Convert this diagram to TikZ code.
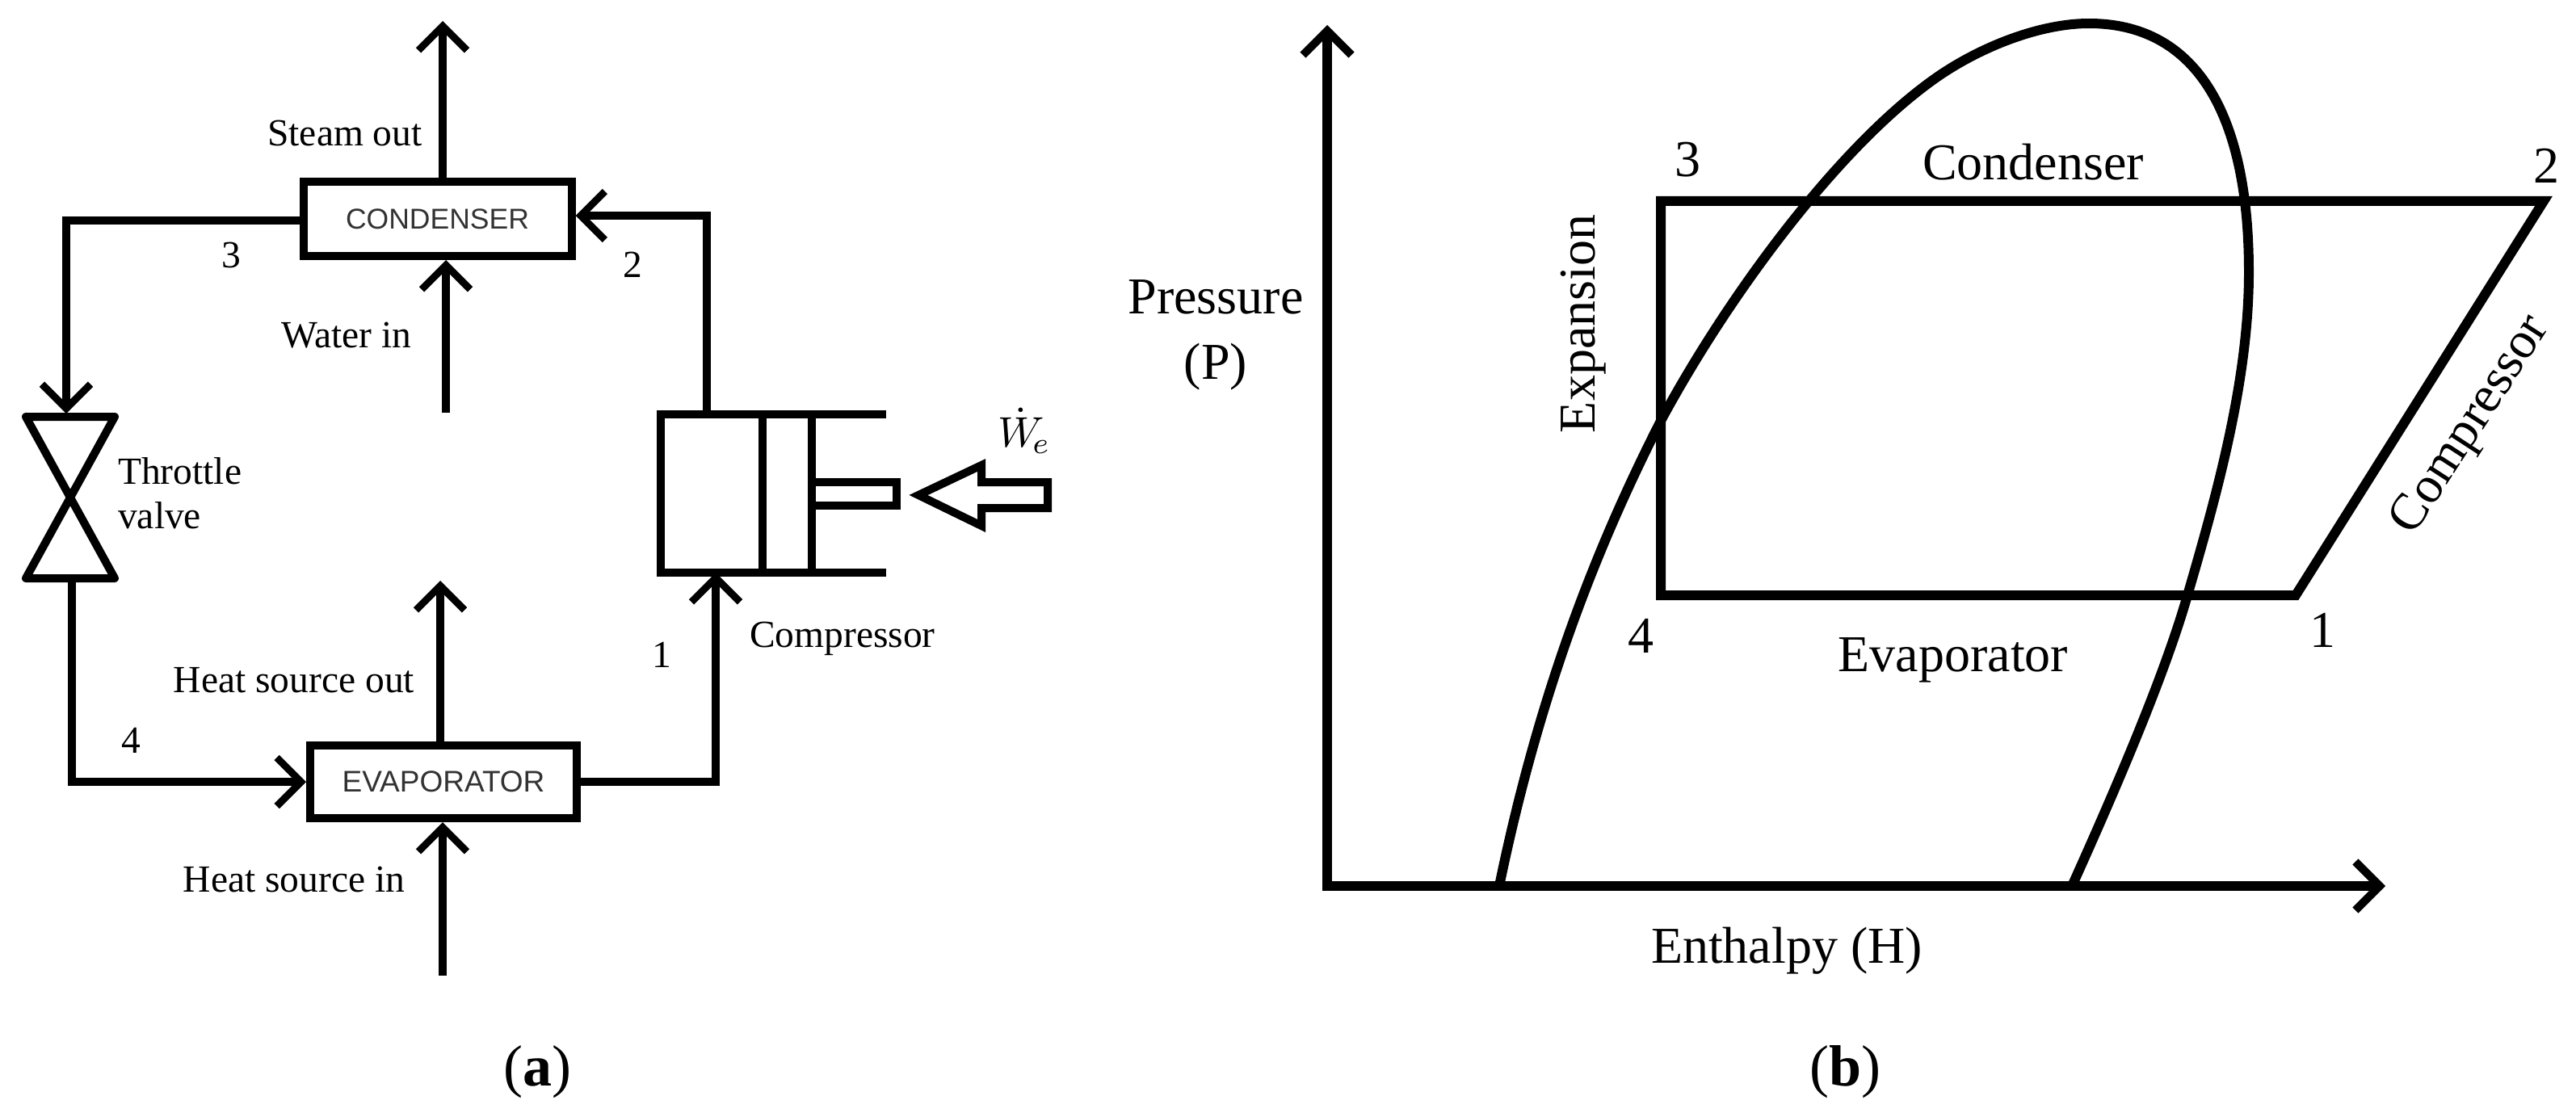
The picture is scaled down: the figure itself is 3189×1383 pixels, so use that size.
\documentclass[tikz,border=0pt]{standalone}
\usepackage{fontspec}
\setmainfont{Liberation Serif}
\newfontfamily\boxfont{Liberation Sans}
\usetikzlibrary{arrows.meta}
\tikzset{
  thick line/.style={line width=10pt,line join=miter},
  graph line/.style={line width=12pt,line join=miter},
  flow/.style={thick line,-{Straight Barb[length=30pt,width=60pt,line width=9pt]}},
  axis flow/.style={graph line,-{Straight Barb[length=30pt,width=60pt,line width=10pt]}},
  unitbox/.style={draw,line width=10pt,inner sep=0pt,text=black!80},
  part/.style={draw,line width=10pt,inner sep=0pt,outer sep=0pt},
  labA/.style={font=\fontsize{47.5}{54}\selectfont,inner sep=0pt,align=left},
  labB/.style={font=\fontsize{64}{72}\selectfont,inner sep=0pt,align=center},
  figcap/.style={font=\fontsize{72}{80}\selectfont,inner sep=0pt},
}
\begin{document}
\begin{tikzpicture}[x=1pt,y=-1pt]
\useasboundingbox (0,0) rectangle (3189,1383);
% ---- panel (a)
\node[unitbox,minimum width=332pt,minimum height=92pt,font=\boxfont\fontsize{35.5}{40}\selectfont] (cond) at (541.5,271) {CONDENSER};
\node[unitbox,minimum width=330pt,minimum height=90pt,font=\boxfont\fontsize{37}{42}\selectfont] (evap) at (549,968) {EVAPORATOR};
\coordinate (steamEnd) at (548,26);
\coordinate (waterStart) at (552,511);
\coordinate (hoEnd) at (545,719);
\coordinate (hiStart) at (548,1208);
\draw[flow] (cond.north -| steamEnd) -- (steamEnd);
\draw[flow] (waterStart) -- (waterStart |- cond.south);
\draw[flow] (evap.north -| hoEnd) -- (hoEnd);
\draw[flow] (hiStart) -- (hiStart |- evap.south);
% valve
\coordinate (vtl) at (32,516);
\coordinate (vtr) at (142,516);
\coordinate (vbl) at (32,716);
\coordinate (vbr) at (142,716);
\coordinate (vtop) at (82,512);
\coordinate (vbot) at (89,716);
\draw[thick line,line join=round] (vtl) -- (vtr) -- (vbl) -- (vbr) -- cycle;
\draw[flow] (cond.west |- 0,273) -| (vtop);
\draw[flow] (vbot) |- (evap.west);
% compressor
\node[part,minimum width=126pt,minimum height=196pt] (chamber) at (881,611) {};
\node[part,minimum width=61pt,minimum height=196pt] (piston) at (974.5,611) {};
\node[part,minimum width=105pt,minimum height=29pt] (rod) at (1057.5,611.5) {};
\coordinate (cylEnd) at (1097,611);
\draw[thick line] (chamber.north east) -- (chamber.north east -| cylEnd);
\draw[thick line] (chamber.south east) -- (chamber.south east -| cylEnd);
\coordinate (inletX) at (886,800);
\draw[flow] (evap.east) -| (inletX |- chamber.south);
\coordinate (outletX) at (875,300);
\draw[flow] (outletX |- chamber.north) |- (cond.east |- 0,267);
% work arrow
\coordinate (a1) at (1137,613);
\coordinate (a2) at (1215,576);
\coordinate (a3) at (1215,597);
\coordinate (a4) at (1297,597);
\coordinate (a5) at (1297,629);
\coordinate (a6) at (1215,629);
\coordinate (a7) at (1215,651);
\draw[thick line] (a1) -- (a2) -- (a3) -- (a4) -- (a5) -- (a6) -- (a7) -- cycle;
% labels
\node[labA] (l1) at (427,165) {Steam out};
\node[labA] (l2) at (429,415) {Water in};
\node[labA,anchor=west] (l3) at (146,583) {Throttle};
\node[labA,anchor=west] (l4) at (146,638) {valve};
\node[labA] (l5) at (364,842) {Heat source out};
\node[labA] (l6) at (364,1089) {Heat source in};
\node[labA] (l7) at (1043,791) {Compressor};
\node[labA] (n3a) at (286,316) {3};
\node[labA] (n2a) at (783,328) {2};
\node[labA] (n1a) at (819,811) {1};
\node[labA] (n4a) at (162,917) {4};
\node[inner sep=0pt] (work) at (1268,533) {\scalebox{5.3}{$\dot{W}_{\!e}$}};
\node[figcap] (capa) at (665,1327) {(\textbf{a})};
% ---- panel (b)
\coordinate (origin) at (1643,1097);
\coordinate (yEnd) at (1643,31);
\coordinate (xEnd) at (2953,1097);
\draw[axis flow] (origin) ++(0,6) -- (yEnd);
\draw[axis flow] (origin) ++(-6,0) -- (xEnd);
\coordinate (s3) at (2056,249);
\coordinate (s2) at (3149,249);
\coordinate (s1) at (2842,737);
\coordinate (s4) at (2056,737);
\draw[graph line] (s3) -- (s2) -- (s1) -- (s4) -- cycle;
\draw[graph line] (1856,1097)
  .. controls (1905,860) and (1975,680) .. (2056,521)
  .. controls (2140,365) and (2280,175) .. (2403,92)
  .. controls (2460,54) and (2530,29) .. (2586,29)
  .. controls (2715,29) and (2784,135) .. (2784,337)
  .. controls (2784,470) and (2745,610) .. (2708,737)
  .. controls (2680,835) and (2620,975) .. (2565,1097);
\node[labB] (b1) at (2517,201) {Condenser};
\node[labB] (b2) at (2418,817) {Evaporator};
\node[labB] (b3) at (1505,368) {Pressure};
\node[labB] (b4) at (1505,454) {(P)};
\node[labB] (b5) at (2212,1177) {Enthalpy (H)};
\node[labB,rotate=90] (b6) at (1960,401) {Expansion};
\node[labB,rotate=57] (b7) at (3060,527) {Compressor};
\node[labB] (n3b) at (2089,198) {3};
\node[labB] (n2b) at (3152,205) {2};
\node[labB] (n4b) at (2031,787) {4};
\node[labB] (n1b) at (2875,780) {1};
\node[figcap] (capb) at (2284,1327) {(\textbf{b})};
\end{tikzpicture}
\end{document}
